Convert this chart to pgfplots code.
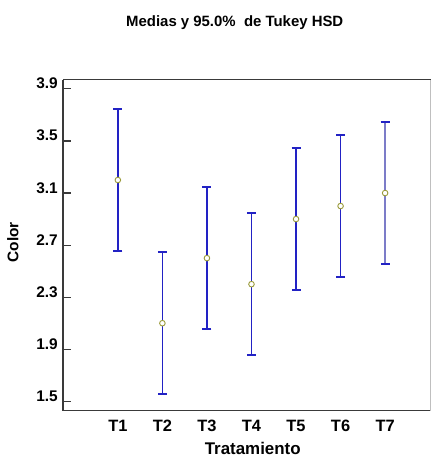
\documentclass[border=0pt]{standalone}
\usepackage{fontspec}
\setmainfont{Liberation Sans}
\usepackage{pgfplots}
\pgfplotsset{compat=1.18}

\definecolor{barblue}{HTML}{2222C4}
\definecolor{barlight}{HTML}{7C7CC8}
\definecolor{meanolive}{HTML}{9A9A3A}
\definecolor{frame}{HTML}{3A3A3A}

\begin{document}
\begin{tikzpicture}
\begin{axis}[
  scale only axis,
  width=368bp, height=331bp,
  xmin=-0.233, xmax=8.02,
  ymin=1.429, ymax=3.969,
  axis x line*=bottom,
  axis y line*=left,
  axis line style={draw=frame, line width=1.4bp},
  xtick={1,2,3,4,5,6,7},
  xticklabels={T1,T2,T3,T4,T5,T6,T7},
  ytick={1.5,1.9,2.3,2.7,3.1,3.5,3.9},
  yticklabel={\pgfmathprintnumber[fixed, fixed zerofill, precision=1, assume math mode=true]{\tick}},
  major tick length=0pt,
  xtick style={draw=none},
  ytick style={draw=none},
  yticklabel style={anchor=base east, inner sep=0pt, xshift=-5bp,
    font=\fontsize{15.5}{15.5}\selectfont\bfseries},
  xticklabel style={anchor=north, inner sep=0pt, yshift=-9bp,
    font=\fontsize{16.5}{16.5}\selectfont\bfseries},
  clip=false,
]
% Inward tick marks on the value axis
\pgfplotsinvokeforeach{1.5,1.9,2.3,2.7,3.1,3.5,3.9}{
  \draw[frame, line width=1.2bp] (axis cs:-0.233,#1) -- (axis cs:-0.054,#1);
}
% Tukey HSD intervals around each treatment mean
\addplot[barblue, only marks, no markers, forget plot,
  error bars/.cd, y dir=both, y explicit, error mark=|,
  error bar style={draw=barblue, line width=1.4bp},
  error mark options={draw=barblue, line width=1.6bp, mark size=4.5bp}]
  coordinates {
    (1,3.200) +- (0,0.545)
    (2,2.100) +- (0,0.545)
    (3,2.600) +- (0,0.545)
    (4,2.400) +- (0,0.545)
    (5,2.900) +- (0,0.545)
    (6,3.000) +- (0,0.545)
  };
\addplot[barlight, only marks, no markers, forget plot,
  error bars/.cd, y dir=both, y explicit, error mark=|,
  error bar style={draw=barlight, line width=1.4bp},
  error mark options={draw=barblue, line width=1.6bp, mark size=4.5bp}]
  coordinates {
    (7,3.100) +- (0,0.545)
  };
% Treatment means
\addplot[only marks, mark=*, mark size=2.8bp,
  mark options={draw=meanolive, line width=0.9bp, fill=white}]
  coordinates {
    (1,3.200) (2,2.100) (3,2.600) (4,2.400)
    (5,2.900) (6,3.000) (7,3.100)
  };
% Remaining frame edges
\draw[frame, line width=1bp] (axis description cs:0,1) -- (axis description cs:1,1);
\draw[black!25, line width=0.6bp] (axis description cs:1,0) -- (axis description cs:1,1);
\end{axis}
% Title and axis titles
\node[anchor=base, font=\fontsize{15}{15}\selectfont\bfseries]
  at ([xshift=172bp, yshift=53bp]current axis.north west) {Medias y 95.0\%\ \ de Tukey HSD};
\node[anchor=center, rotate=90, font=\fontsize{15.5}{15.5}\selectfont\bfseries]
  at ([xshift=-50bp, yshift=3bp]current axis.west) {Color};
\node[anchor=base, font=\fontsize{17}{17}\selectfont\bfseries]
  at ([xshift=6bp, yshift=-44bp]current axis.south) {Tratamiento};
% Page extent
\path ([xshift=-63bp, yshift=-47bp]current axis.south west) rectangle ([xshift=1bp, yshift=80bp]current axis.north east);
\end{tikzpicture}
\end{document}
